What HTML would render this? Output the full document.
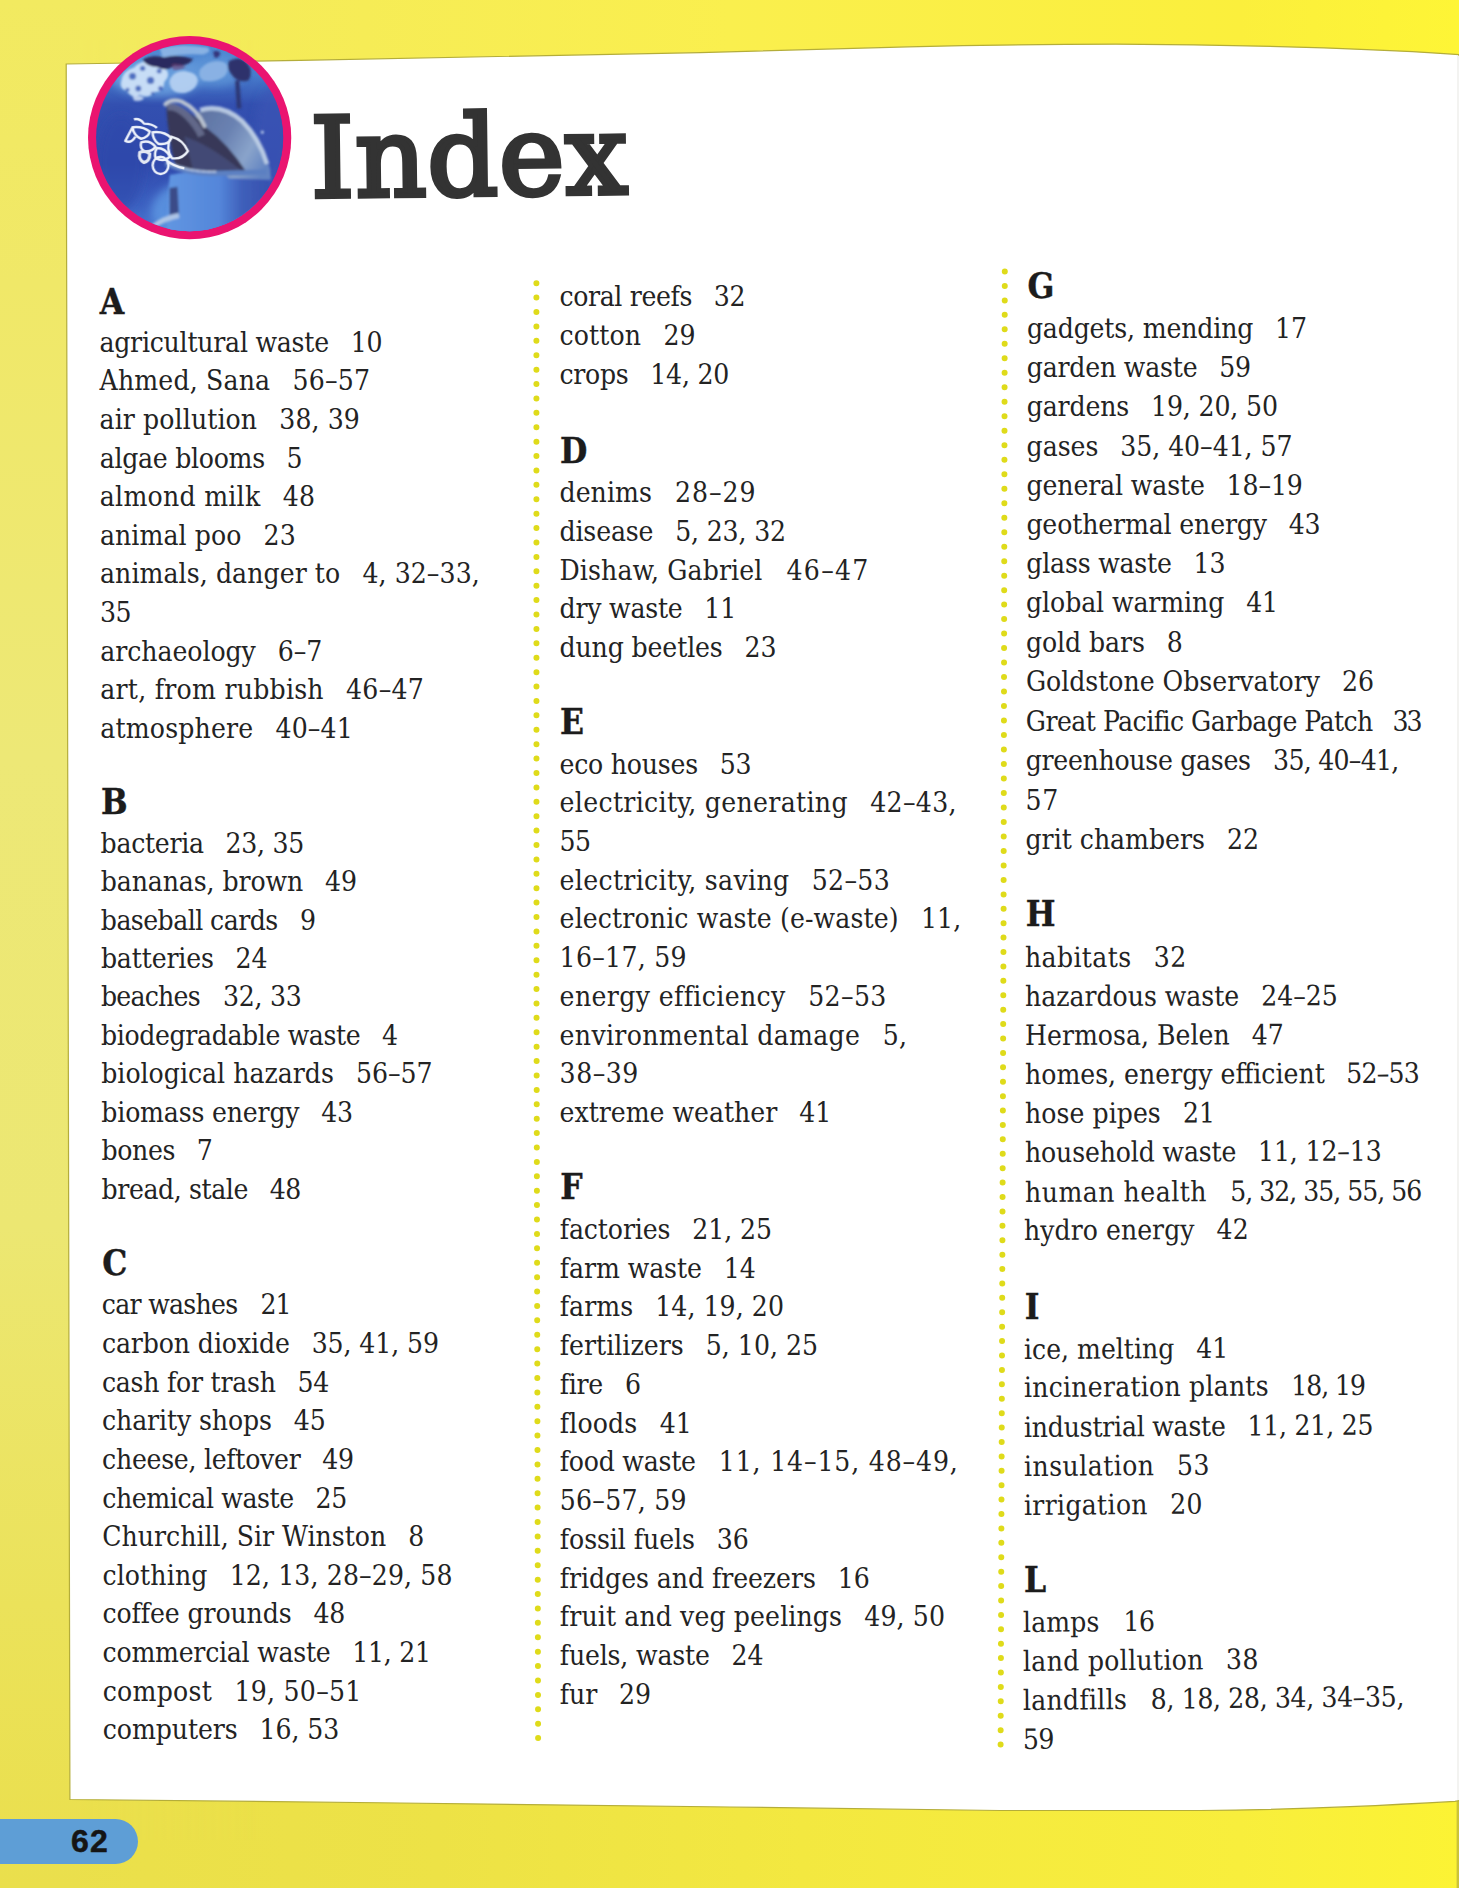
<!DOCTYPE html>
<html lang="en">
<head>
<meta charset="utf-8">
<title>Index</title>
<style>
html,body{margin:0;padding:0}
body{width:1459px;height:1888px;position:relative;overflow:hidden;background:#f3e84e;
 font-family:"DejaVu Serif Condensed","DejaVu Serif","Liberation Serif",serif;font-stretch:condensed;color:#232323}
#bg{position:absolute;left:0;top:0;width:1459px;height:1888px}
#title{position:absolute;left:310.6px;top:83.6px;margin:0;font-family:"DejaVu Serif","Liberation Serif",serif;font-stretch:normal;font-size:111px;line-height:150px;font-weight:normal;color:#333;
 -webkit-text-stroke:4.6px #333;letter-spacing:0.6px;white-space:nowrap;transform-origin:0 75%;transform:rotate(-0.7deg)}
.col p{position:absolute;margin:0;white-space:nowrap;font-size:28px;line-height:40px;height:40px;transform-origin:0 29px}
.col h2{position:absolute;margin:0;white-space:nowrap;font-size:35px;line-height:40px;height:40px;font-weight:bold;color:#1c1c1c;-webkit-text-stroke:0.4px #1c1c1c}
.n{margin-left:14px}
#tab{position:absolute;left:0;top:1818.5px;width:138px;height:45.5px;background:#5e9ed6;border-radius:0 23px 23px 0}
#pn{position:absolute;left:71px;top:1821px;margin:0;font-family:"Liberation Sans","DejaVu Sans",sans-serif;font-stretch:normal;font-weight:bold;
 font-size:32px;line-height:40px;color:#151515;letter-spacing:1.2px;-webkit-text-stroke:0.5px #151515}
</style>
</head>
<body>
<svg id="bg" viewBox="0 0 1459 1888" width="1459" height="1888">
<defs>
<linearGradient id="gt" x1="0" y1="0" x2="1" y2="0">
<stop offset="0" stop-color="#f2ea60"/><stop offset="0.25" stop-color="#f6ec56"/><stop offset="0.5" stop-color="#faef4e"/><stop offset="0.85" stop-color="#fbef3c"/><stop offset="1" stop-color="#fef536"/>
</linearGradient>
<linearGradient id="gb" x1="0" y1="0" x2="1" y2="0">
<stop offset="0" stop-color="#eadf4c"/><stop offset="0.3" stop-color="#ede246"/><stop offset="0.55" stop-color="#f3e840"/><stop offset="0.85" stop-color="#f8ee3c"/><stop offset="1" stop-color="#fcf334"/>
</linearGradient>
<linearGradient id="gl" x1="0" y1="0" x2="0" y2="1">
<stop offset="0" stop-color="#f2ea60"/><stop offset="0.15" stop-color="#f0e868"/><stop offset="0.4" stop-color="#ede876"/><stop offset="0.65" stop-color="#ece772"/><stop offset="0.85" stop-color="#ebe25a"/><stop offset="1" stop-color="#eadf4c"/>
</linearGradient>
<linearGradient id="gfade" x1="0" y1="0" x2="1" y2="0">
<stop offset="0" stop-color="#fff" stop-opacity="1"/><stop offset="1" stop-color="#fff" stop-opacity="0"/>
</linearGradient>
<mask id="ml"><rect x="0" y="0" width="260" height="1888" fill="url(#gfade)"/></mask>
</defs>
<rect width="1459" height="1000" fill="url(#gt)"/>
<rect y="1000" width="1459" height="888" fill="url(#gb)"/>
<rect x="0" y="40" width="260" height="1800" fill="url(#gl)" mask="url(#ml)"/>
<rect x="0" y="0" width="80" height="1888" fill="url(#gl)"/>
<rect x="1456.6" y="1799" width="2.4" height="89" fill="#cbc338"/>
<path id="paper" d="M66.2,64 L300,60.3 L700,52.6 Q810,49.5 908,46.8 Q1010,44.5 1116,44.2 Q1220,44.6 1324,47.9 Q1400,50.5 1459,54.6 L1459,1800.6 L1455,1801.4 Q1400,1804.5 1350,1806.7 Q1270,1810 1200,1810.5 L1000,1810.5 Q860,1809 730,1807 L400,1803 L69.9,1799.5 Z" fill="#ffffff" stroke="#b4ad3a" stroke-width="1.2"/>
<rect x="1457" y="56" width="2" height="1744" fill="#f3f3f1"/>
<g fill="none" stroke="#dfdb1a" stroke-width="6" stroke-linecap="round">
<path d="M536.4,283.2 L536.5,1003.4 L538.1,1738.6" stroke-dasharray="0 14.405"/>
<path d="M1004.8,271.4 L1003.6,894.4" stroke-dasharray="0 14.488"/>
<path d="M1003.6,908.8 L1000.6,1745" stroke-dasharray="0 14.41"/>
</g>
<defs>
<clipPath id="cc"><circle cx="727" cy="727" r="650"/></clipPath>
<linearGradient id="sea" x1="0" y1="0" x2="0" y2="1">
<stop offset="0" stop-color="#4f8cd4"/><stop offset="0.2" stop-color="#477ccc"/><stop offset="0.34" stop-color="#3350b0"/><stop offset="0.62" stop-color="#3049ac"/><stop offset="0.82" stop-color="#3d62c2"/><stop offset="1" stop-color="#4f82d6"/>
</linearGradient>
<linearGradient id="melon" x1="0" y1="0.2" x2="1" y2="0.7">
<stop offset="0" stop-color="#5d719f"/><stop offset="0.45" stop-color="#6a82b2"/><stop offset="0.75" stop-color="#8aa4cb"/><stop offset="1" stop-color="#6284c2"/>
</linearGradient>
<linearGradient id="bodyg" x1="0" y1="0" x2="1" y2="0">
<stop offset="0" stop-color="#6196e2"/><stop offset="0.5" stop-color="#5486da"/><stop offset="0.72" stop-color="#3f5fba"/><stop offset="1" stop-color="#3650ae"/>
</linearGradient>
<filter id="bl" x="-10%" y="-10%" width="120%" height="120%"><feGaussianBlur stdDeviation="8"/></filter>
<filter id="bl2" x="-30%" y="-30%" width="160%" height="160%"><feGaussianBlur stdDeviation="30"/></filter>
<filter id="bl3" x="-10%" y="-10%" width="120%" height="120%"><feGaussianBlur stdDeviation="4"/></filter>
</defs>
<g transform="translate(85,33) scale(0.143934)">
<circle cx="727" cy="727" r="706" fill="#ea1470"/>
<g clip-path="url(#cc)">
<rect x="0" y="0" width="1459" height="1459" fill="url(#sea)"/>
<g filter="url(#bl2)">
<ellipse cx="500" cy="300" rx="320" ry="140" fill="#6aa0de" opacity="0.9"/>
<ellipse cx="900" cy="260" rx="220" ry="110" fill="#5f96d8" opacity="0.8"/>
<ellipse cx="860" cy="1240" rx="400" ry="240" fill="#5f98e4" opacity="0.8"/>
<ellipse cx="1300" cy="700" rx="120" ry="330" fill="#3a56b6" opacity="0.6"/>
<ellipse cx="250" cy="900" rx="160" ry="330" fill="#2f47aa" opacity="0.6"/>
</g>
<g filter="url(#bl)">
<!-- foam -->
<path d="M250,340 q10,-80 90,-100 q50,-60 130,-30 q70,-20 90,40 q40,40 -10,90 q0,70 -70,70 q-40,50 -100,20 q-60,30 -90,-30 q-50,-10 -40,-60z" fill="#d2e4f8" opacity="0.9"/>
<path d="M590,320 q30,-60 110,-55 q80,10 85,65 q-10,65 -85,85 q-70,10 -100,-30 q-20,-30 -10,-65z" fill="#b4d0f1" opacity="0.95"/>
<path d="M800,250 q60,-70 160,-50 q60,30 10,100 q-60,50 -150,30 q-40,-30 -20,-80z" fill="#8eb5e6" opacity="0.9"/>
<path d="M520,110 q120,-40 330,-10 q40,30 -30,50 q-130,-10 -280,20z" fill="#9cc0ea" opacity="0.75"/>
<path d="M330,440 q40,-20 80,10 q-20,30 -70,20z" fill="#dbe9f9" opacity="0.8"/>
<!-- foam holes -->
<g fill="#3a5cb8" opacity="0.85"><circle cx="330" cy="300" r="24"/><circle cx="400" cy="245" r="18"/><circle cx="455" cy="330" r="25"/><circle cx="370" cy="385" r="20"/><circle cx="515" cy="265" r="17"/><circle cx="295" cy="395" r="14"/><circle cx="525" cy="385" r="17"/><circle cx="470" cy="420" r="12"/></g>
<!-- dark debris -->
<path d="M400,185 q60,-40 150,-15 q90,-25 200,10 q-30,55 -130,45 q-50,45 -120,10 q-70,0 -100,-50z" fill="#2b2b5e"/>
<path d="M600,215 q60,-10 100,20 q-40,30 -90,20z" fill="#6a3a6a" opacity="0.6"/>
<path d="M1000,195 q70,-40 125,10 q50,65 10,125 q-75,20 -115,-40 q-40,-45 -20,-95z" fill="#2e326c"/>
<path d="M890,130 q30,-20 50,10 q-10,40 -40,30z" fill="#35357a"/>
<path d="M1043,330 l30,0 l12,195 l-30,0z" fill="#2f3874"/>
<!-- body -->
<path d="M590,985 q260,-40 650,-25 q90,170 40,480 l-700,20 q-20,-250 10,-475z" fill="url(#bodyg)"/>
<!-- melon / head -->
<path d="M780,550 q160,-70 320,60 q130,120 185,330 L1292,1020 L1000,1010 L700,700 z" fill="url(#melon)"/>
<path d="M800,535 q150,-45 290,75 q120,120 175,300" fill="none" stroke="#c2d3e8" stroke-width="32" opacity="0.9"/>
<!-- dark mouth -->
<path d="M565,500 q70,-10 150,50 q80,50 130,110 q150,110 275,305 q-200,30 -485,-25 q-60,-200 -70,-440z" fill="#383958"/>
<path d="M690,720 q170,50 400,240 q-190,20 -340,-10z" fill="#47507e" opacity="0.75"/>
<!-- upper jaw -->
<path d="M570,515 q60,-15 140,60 q70,70 100,140" fill="none" stroke="#70789a" stroke-width="50" opacity="0.75"/>
<path d="M558,495 q40,-42 112,-20 q110,52 160,172" fill="none" stroke="#bcc5d2" stroke-width="28" stroke-linecap="round"/>
<!-- lower jaw -->
<path d="M560,905 q170,80 360,70 l340,-10" fill="none" stroke="#5c80c2" stroke-width="36"/>
<path d="M565,893 q160,78 350,70" fill="none" stroke="#d9e2f0" stroke-width="15" stroke-dasharray="11 6"/>
<!-- flipper -->
<path d="M588,1078 l54,-10 l10,192 l-64,32z" fill="#3b4c88"/>
<path d="M455,1338 q90,-72 195,-88 l6,36 q-100,20 -175,72z" fill="#adc5e6"/>
<circle cx="1232" cy="690" r="10" fill="#cfe0f5"/>
</g>
<!-- plastic rings -->
<g fill="none" stroke="#eef3fb" stroke-width="17" filter="url(#bl3)" stroke-linejoin="round">
<path d="M340,600 q40,-10 70,30 q60,0 90,30"/>
<path d="M330,655 q70,-10 120,30 q-10,40 -60,50 q-50,-20 -60,-80z"/>
<path d="M330,655 l-50,95 q40,20 70,-30"/>
<path d="M470,690 q80,-10 130,40 q-20,50 -90,40 q-40,-30 -40,-80z"/>
<path d="M390,760 q60,-20 100,30 q-30,40 -80,30 q-30,-20 -20,-60z"/>
<path d="M600,720 q80,20 115,100 q-40,60 -110,50 q-50,-70 -5,-150z"/>
<path d="M500,800 q60,0 90,60 q-40,40 -100,10 q-10,-40 10,-70z"/>
<path d="M380,830 q40,-20 70,10 q0,50 -40,60 q-40,-20 -30,-70z" stroke-width="22" stroke="#e4e9f2"/>
<ellipse cx="525" cy="920" rx="55" ry="60"/>
<path d="M560,880 q60,50 130,60"/>
</g>
</g>
</g>

</svg>
<h1 id="title">Index</h1>
<div class="col" id="c1">
<h2 style="left:99.8px;top:282px">A</h2>
<p style="left:99.4px;top:323px;letter-spacing:-0.23px"><span class="t">agricultural waste</span> <span class="n">10</span></p>
<p style="left:99.5px;top:361px;letter-spacing:0.18px"><span class="t">Ahmed, Sana</span> <span class="n">56–57</span></p>
<p style="left:99.6px;top:400px;letter-spacing:0.1px"><span class="t">air pollution</span> <span class="n">38, 39</span></p>
<p style="left:99.7px;top:439px;letter-spacing:-0.27px"><span class="t">algae blooms</span> <span class="n">5</span></p>
<p style="left:99.8px;top:477px;letter-spacing:0.27px"><span class="t">almond milk</span> <span class="n">48</span></p>
<p style="left:99.9px;top:516px;letter-spacing:0.09px"><span class="t">animal poo</span> <span class="n">23</span></p>
<p style="left:100.0px;top:554px;letter-spacing:0.08px"><span class="t">animals, danger to</span> <span class="n">4, 32–33,</span></p>
<p style="left:100.1px;top:593px;letter-spacing:-0.62px"><span class="c">35</span></p>
<p style="left:100.2px;top:632px;letter-spacing:-0.04px"><span class="t">archaeology</span> <span class="n">6–7</span></p>
<p style="left:100.3px;top:670px;letter-spacing:0.25px"><span class="t">art, from rubbish</span> <span class="n">46–47</span></p>
<p style="left:100.3px;top:709px;letter-spacing:0.17px"><span class="t">atmosphere</span> <span class="n">40–41</span></p>
<h2 style="left:101.0px;top:782px">B</h2>
<p style="left:100.6px;top:824px;letter-spacing:-0.27px"><span class="t">bacteria</span> <span class="n">23, 35</span></p>
<p style="left:100.7px;top:862px;letter-spacing:-0.09px"><span class="t">bananas, brown</span> <span class="n">49</span></p>
<p style="left:100.8px;top:901px;letter-spacing:-0.54px"><span class="t">baseball cards</span> <span class="n" style="letter-spacing:-1.63px;margin-left:14.84px">9</span></p>
<p style="left:100.9px;top:939px;letter-spacing:-0.15px"><span class="t">batteries</span> <span class="n">24</span></p>
<p style="left:101.0px;top:977px;letter-spacing:-0.77px"><span class="t">beaches</span> <span class="n" style="letter-spacing:-0.27px;margin-left:16.07px">32, 33</span></p>
<p style="left:101.1px;top:1016px;letter-spacing:-0.37px"><span class="t">biodegradable waste</span> <span class="n">4</span></p>
<p style="left:101.2px;top:1054px;letter-spacing:0.01px"><span class="t">biological hazards</span> <span class="n">56–57</span></p>
<p style="left:101.3px;top:1093px;letter-spacing:-0.17px"><span class="t">biomass energy</span> <span class="n">43</span></p>
<p style="left:101.4px;top:1131px;letter-spacing:-0.32px"><span class="t">bones</span> <span class="n">7</span></p>
<p style="left:101.5px;top:1170px;letter-spacing:-0.39px"><span class="t">bread, stale</span> <span class="n">48</span></p>
<h2 style="left:102.2px;top:1243px">C</h2>
<p style="left:101.8px;top:1285px;letter-spacing:-0.7px"><span class="t">car washes</span> <span class="n" style="letter-spacing:-0.97px;margin-left:15.7px">21</span></p>
<p style="left:101.9px;top:1324px;letter-spacing:-0.1px"><span class="t">carbon dioxide</span> <span class="n">35, 41, 59</span></p>
<p style="left:101.9px;top:1363px;letter-spacing:-0.24px"><span class="t">cash for trash</span> <span class="n">54</span></p>
<p style="left:102.0px;top:1401px;letter-spacing:-0.1px"><span class="t">charity shops</span> <span class="n">45</span></p>
<p style="left:102.1px;top:1440px;letter-spacing:-0.27px"><span class="t">cheese, leftover</span> <span class="n">49</span></p>
<p style="left:102.2px;top:1479px;letter-spacing:-0.37px"><span class="t">chemical waste</span> <span class="n">25</span></p>
<p style="left:102.3px;top:1517px;letter-spacing:0.01px"><span class="t">Churchill, Sir Winston</span> <span class="n">8</span></p>
<p style="left:102.4px;top:1556px;letter-spacing:0.13px"><span class="t">clothing</span> <span class="n">12, 13, 28–29, 58</span></p>
<p style="left:102.5px;top:1594px;letter-spacing:-0.11px"><span class="t">coffee grounds</span> <span class="n">48</span></p>
<p style="left:102.6px;top:1633px;letter-spacing:-0.24px"><span class="t">commercial waste</span> <span class="n">11, 21</span></p>
<p style="left:102.7px;top:1672px;letter-spacing:0.28px"><span class="t">compost</span> <span class="n">19, 50–51</span></p>
<p style="left:102.8px;top:1710px;letter-spacing:-0.07px"><span class="t">computers</span> <span class="n">16, 53</span></p>
</div>
<div class="col" id="c2">
<p style="left:559.4px;top:277px;letter-spacing:-0.34px"><span class="t">coral reefs</span> <span class="n">32</span></p>
<p style="left:559.4px;top:316px;letter-spacing:0.16px"><span class="t">cotton</span> <span class="n">29</span></p>
<p style="left:559.4px;top:355px;letter-spacing:-0.24px"><span class="t">crops</span> <span class="n">14, 20</span></p>
<h2 style="left:559.9px;top:431px">D</h2>
<p style="left:559.5px;top:473px;letter-spacing:0.05px"><span class="t">denims</span> <span class="n" style="letter-spacing:0.98px;margin-left:14.95px">28–29</span></p>
<p style="left:559.5px;top:512px;letter-spacing:-0.15px"><span class="t">disease</span> <span class="n">5, 23, 32</span></p>
<p style="left:559.5px;top:551px;letter-spacing:0.14px"><span class="t">Dishaw, Gabriel</span> <span class="n" style="letter-spacing:1.26px;margin-left:15.86px">46–47</span></p>
<p style="left:559.5px;top:589px;letter-spacing:-0.21px"><span class="t">dry waste</span> <span class="n">11</span></p>
<p style="left:559.5px;top:628px;letter-spacing:-0.12px"><span class="t">dung beetles</span> <span class="n">23</span></p>
<h2 style="left:560.0px;top:702px">E</h2>
<p style="left:559.5px;top:745px;letter-spacing:-0.21px"><span class="t">eco houses</span> <span class="n">53</span></p>
<p style="left:559.6px;top:783px;letter-spacing:0.33px"><span class="t">electricity, generating</span> <span class="n">42–43,</span></p>
<p style="left:559.6px;top:822px;letter-spacing:-0.67px"><span class="c">55</span></p>
<p style="left:559.6px;top:861px;letter-spacing:0.33px"><span class="t">electricity, saving</span> <span class="n">52–53</span></p>
<p style="left:559.6px;top:899px;letter-spacing:0.13px"><span class="t">electronic waste (e-waste)</span> <span class="n">11,</span></p>
<p style="left:559.6px;top:938px;letter-spacing:0.29px"><span class="c">16–17, 59</span></p>
<p style="left:559.6px;top:977px;letter-spacing:0.38px"><span class="t">energy efficiency</span> <span class="n">52–53</span></p>
<p style="left:559.6px;top:1016px;letter-spacing:0.33px"><span class="t">environmental damage</span> <span class="n">5,</span></p>
<p style="left:559.6px;top:1054px;letter-spacing:0.52px"><span class="c">38–39</span></p>
<p style="left:559.6px;top:1093px;letter-spacing:-0.01px"><span class="t">extreme weather</span> <span class="n">41</span></p>
<h2 style="left:560.2px;top:1167px">F</h2>
<p style="left:559.7px;top:1210px;letter-spacing:-0.1px"><span class="t">factories</span> <span class="n">21, 25</span></p>
<p style="left:559.7px;top:1249px;letter-spacing:-0.06px"><span class="t">farm waste</span> <span class="n">14</span></p>
<p style="left:559.7px;top:1287px;letter-spacing:0.06px"><span class="t">farms</span> <span class="n">14, 19, 20</span></p>
<p style="left:559.7px;top:1326px;letter-spacing:0.03px"><span class="t">fertilizers</span> <span class="n">5, 10, 25</span></p>
<p style="left:559.7px;top:1365px;letter-spacing:-0.31px"><span class="t">fire</span> <span class="n" style="letter-spacing:-1.63px;margin-left:14.61px">6</span></p>
<p style="left:559.7px;top:1404px;letter-spacing:0.17px"><span class="t">floods</span> <span class="n">41</span></p>
<p style="left:559.7px;top:1442px;letter-spacing:-0.22px"><span class="t">food waste</span> <span class="n" style="letter-spacing:0.85px;margin-left:15.22px">11, 14–15, 48–49,</span></p>
<p style="left:559.8px;top:1481px;letter-spacing:0.26px"><span class="c">56–57, 59</span></p>
<p style="left:559.8px;top:1520px;letter-spacing:-0.07px"><span class="t">fossil fuels</span> <span class="n">36</span></p>
<p style="left:559.8px;top:1559px;letter-spacing:-0.06px"><span class="t">fridges and freezers</span> <span class="n">16</span></p>
<p style="left:559.8px;top:1597px;letter-spacing:0.12px"><span class="t">fruit and veg peelings</span> <span class="n">49, 50</span></p>
<p style="left:559.8px;top:1636px;letter-spacing:-0.17px"><span class="t">fuels, waste</span> <span class="n">24</span></p>
<p style="left:559.8px;top:1675px;letter-spacing:-0.09px"><span class="t">fur</span> <span class="n">29</span></p>
</div>
<div class="col" id="c3">
<h2 style="left:1027.5px;top:266px">G</h2>
<p style="left:1026.9px;top:309px;letter-spacing:-0.16px"><span class="t">gadgets, mending</span> <span class="n">17</span></p>
<p style="left:1026.8px;top:348px;letter-spacing:-0.2px"><span class="t">garden waste</span> <span class="n">59</span></p>
<p style="left:1026.7px;top:387px;letter-spacing:-0.13px"><span class="t">gardens</span> <span class="n">19, 20, 50</span></p>
<p style="left:1026.6px;top:427px;letter-spacing:-0.04px"><span class="t">gases</span> <span class="n">35, 40–41, 57</span></p>
<p style="left:1026.5px;top:466px;letter-spacing:-0.12px"><span class="t">general waste</span> <span class="n">18–19</span></p>
<p style="left:1026.4px;top:505px;letter-spacing:-0.14px"><span class="t">geothermal energy</span> <span class="n">43</span></p>
<p style="left:1026.3px;top:544px;letter-spacing:-0.19px"><span class="t">glass waste</span> <span class="n">13</span></p>
<p style="left:1026.1px;top:583px;letter-spacing:-0.09px"><span class="t">global warming</span> <span class="n">41</span></p>
<p style="left:1026.0px;top:623px;letter-spacing:-0.09px"><span class="t">gold bars</span> <span class="n">8</span></p>
<p style="left:1025.9px;top:662px;letter-spacing:-0.01px"><span class="t">Goldstone Observatory</span> <span class="n">26</span></p>
<p style="left:1025.8px;top:702px;letter-spacing:-0.52px"><span class="t">Great Pacific Garbage Patch</span> <span class="n" style="letter-spacing:-2.02px;margin-left:12.22px">33</span></p>
<p style="left:1025.7px;top:741px;letter-spacing:-0.28px"><span class="t">greenhouse gases</span> <span class="n" style="letter-spacing:-0.73px;margin-left:14.68px">35, 40–41,</span></p>
<p style="left:1025.6px;top:781px;letter-spacing:0.58px"><span class="c">57</span></p>
<p style="left:1025.5px;top:820px;letter-spacing:-0.01px"><span class="t">grit chambers</span> <span class="n">22</span></p>
<h2 style="left:1025.8px;top:894px">H</h2>
<p style="left:1025.2px;top:938px;letter-spacing:0.36px;transform:rotate(-0.10deg)"><span class="t">habitats</span> <span class="n">32</span></p>
<p style="left:1025.1px;top:977px;letter-spacing:-0.02px;transform:rotate(-0.13deg)"><span class="t">hazardous waste</span> <span class="n">24–25</span></p>
<p style="left:1024.9px;top:1016px;letter-spacing:0.01px;transform:rotate(-0.15deg)"><span class="t">Hermosa, Belen</span> <span class="n">47</span></p>
<p style="left:1024.8px;top:1055px;transform:rotate(-0.18deg)"><span class="t">homes, energy efficient</span> <span class="n" style="letter-spacing:-0.78px;margin-left:13.4px">52–53</span></p>
<p style="left:1024.7px;top:1094px;letter-spacing:0.05px;transform:rotate(-0.20deg)"><span class="t">hose pipes</span> <span class="n">21</span></p>
<p style="left:1024.6px;top:1133px;letter-spacing:-0.15px;transform:rotate(-0.23deg)"><span class="t">household waste</span> <span class="n">11, 12–13</span></p>
<p style="left:1024.5px;top:1173px;letter-spacing:0.49px;transform:rotate(-0.25deg)"><span class="t">human health</span> <span class="n" style="letter-spacing:-1.01px;margin-left:14.66px">5, 32, 35, 55, 56</span></p>
<p style="left:1024.4px;top:1211px;letter-spacing:0.03px;transform:rotate(-0.28deg)"><span class="t">hydro energy</span> <span class="n">42</span></p>
<h2 style="left:1024.7px;top:1287px">I</h2>
<p style="left:1024.1px;top:1330px;letter-spacing:-0.01px;transform:rotate(-0.35deg)"><span class="t">ice, melting</span> <span class="n">41</span></p>
<p style="left:1024.0px;top:1368px;letter-spacing:0.22px;transform:rotate(-0.37deg)"><span class="t">incineration plants</span> <span class="n" style="letter-spacing:-1.07px;margin-left:14.29px">18, 19</span></p>
<p style="left:1023.9px;top:1408px;letter-spacing:-0.23px;transform:rotate(-0.40deg)"><span class="t">industrial waste</span> <span class="n">11, 21, 25</span></p>
<p style="left:1023.8px;top:1447px;letter-spacing:0.45px;transform:rotate(-0.42deg)"><span class="t">insulation</span> <span class="n">53</span></p>
<p style="left:1023.7px;top:1486px;letter-spacing:0.3px;transform:rotate(-0.45deg)"><span class="t">irrigation</span> <span class="n">20</span></p>
<h2 style="left:1023.9px;top:1560px">L</h2>
<p style="left:1023.3px;top:1603px;letter-spacing:0.09px;transform:rotate(-0.52deg)"><span class="t">lamps</span> <span class="n" style="letter-spacing:-0.42px;margin-left:15.91px">16</span></p>
<p style="left:1023.2px;top:1642px;letter-spacing:0.3px;transform:rotate(-0.55deg)"><span class="t">land pollution</span> <span class="n">38</span></p>
<p style="left:1023.1px;top:1681px;letter-spacing:0.26px;transform:rotate(-0.57deg)"><span class="t">landfills</span> <span class="n" style="letter-spacing:-0.36px;margin-left:15.37px">8, 18, 28, 34, 34–35,</span></p>
<p style="left:1023.0px;top:1720px;letter-spacing:-0.61px;transform:rotate(-0.59deg)"><span class="c">59</span></p>
</div>
<div id="tab"></div>
<p id="pn">62</p>
</body>
</html>
